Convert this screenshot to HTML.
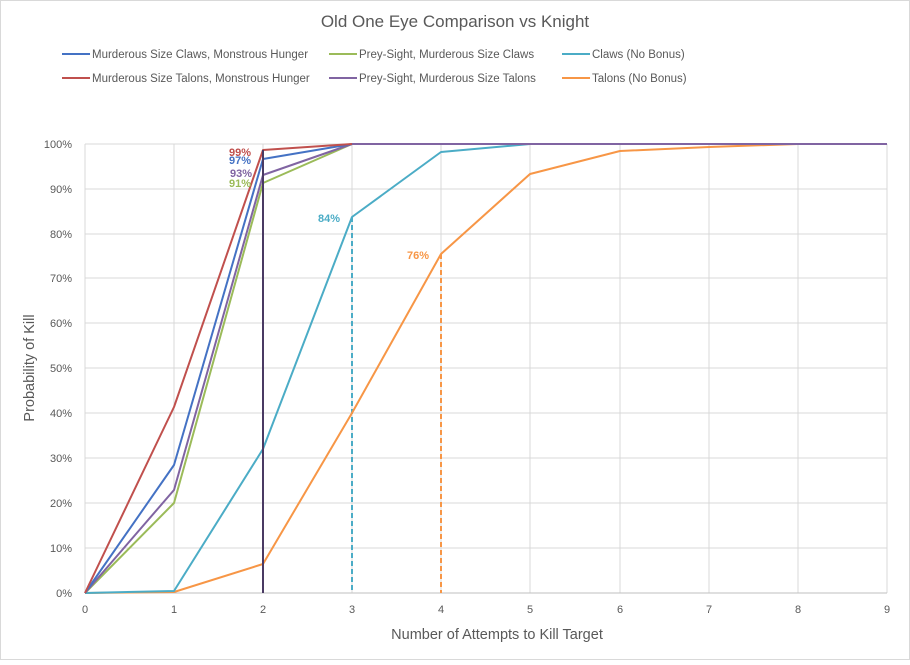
<!DOCTYPE html>
<html><head><style>
body{margin:0;background:#fff;}
svg{font-family:"Liberation Sans",sans-serif;}
</style></head><body>
<svg width="910" height="660" viewBox="0 0 910 660" xmlns="http://www.w3.org/2000/svg">
<rect x="0.5" y="0.5" width="909" height="659" fill="#fff" stroke="#d9d9d9"/>
<text x="455" y="27" font-size="17" fill="#595959" text-anchor="middle">Old One Eye Comparison vs Knight</text>
<g font-size="11.5" fill="#595959">
<line x1="62" y1="54" x2="90" y2="54" stroke="#4472c4" stroke-width="2"/><text x="92" y="58">Murderous Size Claws, Monstrous Hunger</text>
<line x1="62" y1="78" x2="90" y2="78" stroke="#c0504d" stroke-width="2"/><text x="92" y="82">Murderous Size Talons, Monstrous Hunger</text>
<line x1="329" y1="54" x2="357" y2="54" stroke="#9bbb59" stroke-width="2"/><text x="359" y="58">Prey-Sight, Murderous Size Claws</text>
<line x1="329" y1="78" x2="357" y2="78" stroke="#8064a2" stroke-width="2"/><text x="359" y="82">Prey-Sight, Murderous Size Talons</text>
<line x1="562" y1="54" x2="590" y2="54" stroke="#4bacc6" stroke-width="2"/><text x="592" y="58">Claws (No Bonus)</text>
<line x1="562" y1="78" x2="590" y2="78" stroke="#f79646" stroke-width="2"/><text x="592" y="82">Talons (No Bonus)</text>
</g>
<g stroke="#d9d9d9" stroke-width="1">
<line x1="85" y1="144" x2="887" y2="144"/><line x1="85" y1="189" x2="887" y2="189"/><line x1="85" y1="234" x2="887" y2="234"/><line x1="85" y1="278" x2="887" y2="278"/><line x1="85" y1="323" x2="887" y2="323"/><line x1="85" y1="368" x2="887" y2="368"/><line x1="85" y1="413" x2="887" y2="413"/><line x1="85" y1="458" x2="887" y2="458"/><line x1="85" y1="503" x2="887" y2="503"/><line x1="85" y1="548" x2="887" y2="548"/>
<line x1="85" y1="144" x2="85" y2="593"/><line x1="174" y1="144" x2="174" y2="593"/><line x1="263" y1="144" x2="263" y2="593"/><line x1="352" y1="144" x2="352" y2="593"/><line x1="441" y1="144" x2="441" y2="593"/><line x1="530" y1="144" x2="530" y2="593"/><line x1="620" y1="144" x2="620" y2="593"/><line x1="709" y1="144" x2="709" y2="593"/><line x1="798" y1="144" x2="798" y2="593"/><line x1="887" y1="144" x2="887" y2="593"/>
<line x1="85" y1="593" x2="887" y2="593" stroke="#bfbfbf"/>
</g>
<g font-size="11" fill="#595959" text-anchor="end">
<text x="72" y="148">100%</text><text x="72" y="193">90%</text><text x="72" y="238">80%</text><text x="72" y="282">70%</text><text x="72" y="327">60%</text><text x="72" y="372">50%</text><text x="72" y="417">40%</text><text x="72" y="462">30%</text><text x="72" y="507">20%</text><text x="72" y="552">10%</text><text x="72" y="597">0%</text>
</g>
<g font-size="11" fill="#595959" text-anchor="middle">
<text x="85" y="613">0</text><text x="174" y="613">1</text><text x="263" y="613">2</text><text x="352" y="613">3</text><text x="441" y="613">4</text><text x="530" y="613">5</text><text x="620" y="613">6</text><text x="709" y="613">7</text><text x="798" y="613">8</text><text x="887" y="613">9</text>
</g>
<text x="497" y="639" font-size="14.5" fill="#595959" text-anchor="middle">Number of Attempts to Kill Target</text>
<text transform="translate(34,368) rotate(-90)" font-size="14.5" fill="#595959" text-anchor="middle">Probability of Kill</text>
<g fill="none" stroke-width="2" stroke-linejoin="round">
<line x1="352" y1="217" x2="352" y2="593" stroke="#4bacc6" stroke-dasharray="5,3"/>
<line x1="441" y1="254" x2="441" y2="593" stroke="#f79646" stroke-dasharray="5,3"/>
<polyline stroke="#f79646" points="85,593 174,592 263,564 352,413 441,254 530,174 620,151 709,147 798,144 887,144"/>
<polyline stroke="#4bacc6" points="85,593 174,591 263,449 352,217 441,152 530,144 620,144 709,144 798,144 887,144"/>
<polyline stroke="#9bbb59" points="85,593 174,503 263,183 352,144"/>
<polyline stroke="#8064a2" points="85,593 174,490 263,175 352,144 887,144"/>
<polyline stroke="#4472c4" points="85,593 174,465 263,159 352,144"/>
<polyline stroke="#c0504d" points="85,593 174,407 263,150 352,144"/>
<line x1="263" y1="150" x2="263" y2="593" stroke="#4a3a63"/>
</g>
<g font-size="11" font-weight="bold" text-anchor="end">
<text x="251" y="156" fill="#c0504d">99%</text>
<text x="251" y="164" fill="#4472c4">97%</text>
<text x="252" y="177" fill="#8064a2">93%</text>
<text x="251" y="187" fill="#9bbb59">91%</text>
<text x="340" y="222" fill="#4bacc6">84%</text>
<text x="429" y="259" fill="#f79646">76%</text>
</g>
</svg>
</body></html>
